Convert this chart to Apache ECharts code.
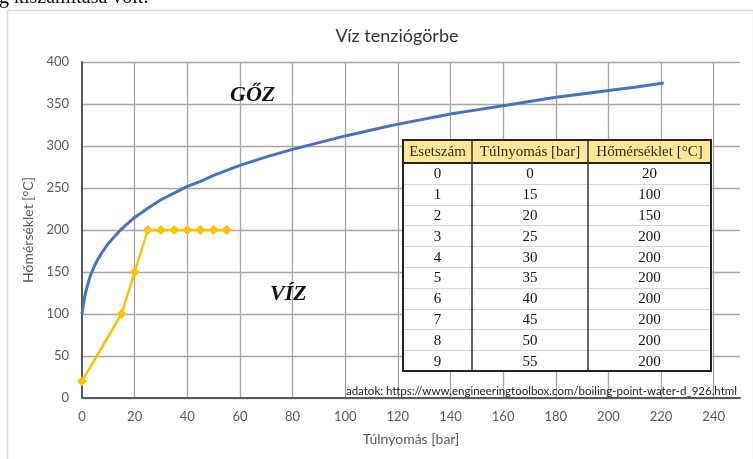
<!DOCTYPE html>
<html>
<head>
<meta charset="utf-8">
<script src="https://cdn.jsdelivr.net/npm/echarts@6/dist/echarts.min.js"></script>
<style>
  html, body { margin: 0; padding: 0; background: #fff; }
  #chart { width: 753px; height: 459px; }
</style>
</head>
<body>
<div id="chart"></div>
<script>
// Saturation curve of water: gauge pressure [bar] vs boiling temperature [°C]
const curvePressure = [0, 0.5, 1, 1.5, 2, 3, 4, 5, 6, 8, 10, 12, 14, 16, 20, 25, 30, 35, 40, 45, 50, 60, 70, 80, 90, 100, 110, 120, 130, 140, 150, 160, 170, 180, 190, 200, 210, 221];
const curveTemp     = [100, 111, 120, 127, 133, 144, 152, 159, 165, 175, 184, 191, 198, 204, 215, 226, 236, 244, 252, 258, 265, 277, 287, 296, 304, 312, 319, 326, 332, 338, 343, 348, 353, 358, 362, 366, 370, 375];

// Cases of the exercise (table + yellow series)
const caseNo       = [0, 1, 2, 3, 4, 5, 6, 7, 8, 9];
const casePressure = [0, 15, 20, 25, 30, 35, 40, 45, 50, 55];
const caseTemp     = [20, 100, 150, 200, 200, 200, 200, 200, 200, 200];

const tableHeader = ['Esetszám', 'Túlnyomás [bar]', 'Hőmérséklet [°C]'];

const chart = echarts.init(document.getElementById('chart'), null, { renderer: 'canvas' });

function buildTable() {
  const cols = [403, 472, 588, 711];
  const top = 140, headH = 23, rowH = 20.8;
  const bottom = top + headH + rowH * caseNo.length;
  const serif = '"Liberation Serif", serif';
  const Z = 100;
  const kids = [];
  kids.push({ type: 'rect', z: Z, z2: 0, shape: { x: cols[0], y: top, width: cols[3] - cols[0], height: bottom - top }, style: { fill: '#fff' } });
  kids.push({ type: 'rect', z: Z, z2: 1, shape: { x: cols[0], y: top, width: cols[3] - cols[0], height: headH }, style: { fill: '#FFE699' } });
  // light row separators
  for (let i = 1; i < caseNo.length; i++) {
    const y = Math.round(top + headH + rowH * i) + 0.5;
    kids.push({ type: 'line', z: Z, z2: 2, shape: { x1: cols[0], y1: y, x2: cols[3], y2: y }, style: { stroke: '#d6d6d6', lineWidth: 1 } });
  }
  // header bottom and column lines
  kids.push({ type: 'line', z: Z, z2: 3, shape: { x1: cols[0], y1: top + headH, x2: cols[3], y2: top + headH }, style: { stroke: '#222', lineWidth: 2 } });
  for (let c = 1; c < 3; c++) {
    kids.push({ type: 'line', z: Z, z2: 3, shape: { x1: cols[c], y1: top, x2: cols[c], y2: bottom }, style: { stroke: '#333', lineWidth: 1.5 } });
  }
  kids.push({ type: 'rect', z: Z, z2: 3, shape: { x: cols[0], y: top, width: cols[3] - cols[0], height: bottom - top }, style: { fill: null, stroke: '#222', lineWidth: 2 } });
  // header text
  tableHeader.forEach((h, c) => {
    kids.push({ type: 'text', z: Z, z2: 5, style: { text: h, x: (cols[c] + cols[c + 1]) / 2, y: top + headH / 2 + 1, align: 'center', verticalAlign: 'middle', font: '15px ' + serif, fill: '#2e2a14' } });
  });
  // body
  const colsData = [caseNo, casePressure, caseTemp];
  for (let r = 0; r < caseNo.length; r++) {
    const cy = top + headH + rowH * r + rowH / 2 + 1;
    colsData.forEach((arr, c) => {
      kids.push({ type: 'text', z: Z, z2: 5, style: { text: String(arr[r]), x: (cols[c] + cols[c + 1]) / 2, y: cy, align: 'center', verticalAlign: 'middle', font: '15px ' + serif, fill: '#111' } });
    });
  }
  return { type: 'group', z: Z, children: kids };
}

const sans = 'Lato, "Open Sans", sans-serif';

chart.setOption({
  animation: false,
  backgroundColor: '#fff',
  title: {
    text: 'Víz tenziógörbe',
    left: 392, top: 22, textAlign: 'center',
    textStyle: { fontFamily: sans, fontSize: 18, fontWeight: 'normal', color: '#333' }
  },
  grid: { left: 82, right: 13, top: 62, bottom: 61, containLabel: false },
  xAxis: {
    type: 'value', min: 0, max: 250, interval: 20,
    name: 'Túlnyomás [bar]', nameLocation: 'middle', nameGap: 34,
    nameTextStyle: { fontFamily: sans, fontSize: 14, color: '#595959' },
    axisLine: { show: true, lineStyle: { color: '#595959', width: 2 } },
    axisTick: { show: false },
    axisLabel: { showMaxLabel: false, margin: 12, fontFamily: sans, fontSize: 13, color: '#595959' },
    splitLine: { show: true, showMaxLine: false, showMinLine: false, lineStyle: { color: '#a6a6a6', width: 1.3 } }
  },
  yAxis: {
    type: 'value', min: 0, max: 400, interval: 50,
    name: 'Hőmérséklet [°C]', nameLocation: 'middle', nameGap: 37,
    nameTextStyle: { fontFamily: sans, fontSize: 14, color: '#595959' },
    axisLine: { show: true, lineStyle: { color: '#595959', width: 2 } },
    axisTick: { show: false },
    axisLabel: { margin: 13, fontFamily: sans, fontSize: 13, color: '#595959' },
    splitLine: { show: true, lineStyle: { color: '#a6a6a6', width: 1.3 } }
  },
  series: [
    {
      name: 'Tenziógörbe', type: 'line', smooth: false, showSymbol: false, z: 3,
      data: curvePressure.map((p, i) => [p, curveTemp[i]]),
      lineStyle: { color: '#4472C4', width: 3 }, itemStyle: { color: '#4472C4' }
    },
    {
      name: 'Esetek', type: 'line', z: 4,
      data: casePressure.map((p, i) => [p, caseTemp[i]]),
      symbol: 'diamond', symbolSize: 10,
      lineStyle: { color: '#FFC000', width: 2.5 }, itemStyle: { color: '#FFC000' }
    }
  ],
  graphic: [
    { type: 'rect', z: -1, silent: true, shape: { x: 7.5, y: 10.5, width: 746, height: 450 }, style: { fill: null, stroke: '#d9d9d9', lineWidth: 1.5 } },
    { type: 'text', style: { text: 'g kiszámítása volt.', x: -1, y: 8, verticalAlign: 'bottom', font: '20px "Liberation Serif", serif', fill: '#111' } },
    { type: 'text', z: 50, style: { text: 'GŐZ', x: 230, y: 95, verticalAlign: 'middle', font: 'italic bold 22px "Liberation Serif", serif', fill: '#111' } },
    { type: 'text', z: 50, style: { text: 'VÍZ', x: 270, y: 294, verticalAlign: 'middle', font: 'italic bold 22px "Liberation Serif", serif', fill: '#111' } },
    { type: 'text', z: 50, style: { text: 'adatok: https://www.engineeringtoolbox.com/boiling-point-water-d_926.html', x: 737, y: 391, align: 'right', verticalAlign: 'middle', font: '11.5px ' + sans, fill: '#222' } },
    buildTable()
  ]
});
</script>
</body>
</html>
